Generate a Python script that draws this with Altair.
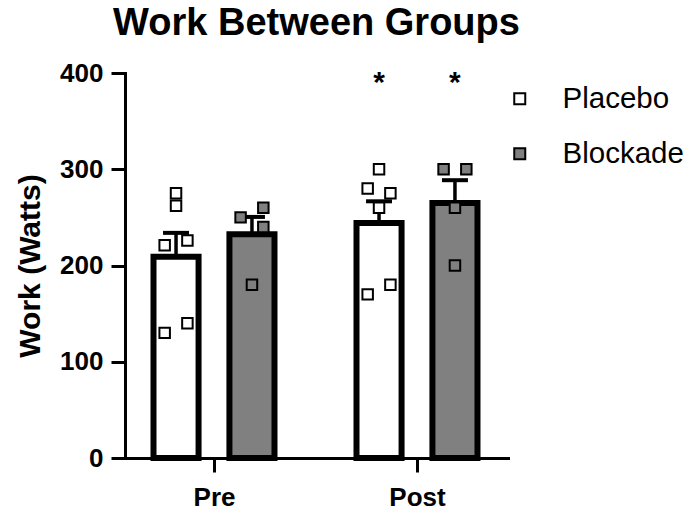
import altair as alt
import pandas as pd

# ---- data -------------------------------------------------------------
times = ["Pre", "Post"]
groups = ["Placebo", "Blockade"]

placebo_pre = [275, 262, 221, 226, 130, 140]
placebo_post = [300, 280, 275, 260, 170, 180]
blockade_pre = [250, 260, 240, 180]
blockade_post = [300, 300, 260, 200]

# column slots used to spread neighbouring points sideways inside a bar
placebo_pre_slot = [0, 0, -1, 1, -1, 1]
placebo_post_slot = [0, -1, 1, 0, -1, 1]
blockade_pre_slot = [-1, 1, 1, 0]
blockade_post_slot = [-1, 1, 0, 0]

# bars flagged as significantly different from baseline
significant = [("Post", "Placebo"), ("Post", "Blockade")]

# ---- layout constants (x units: one unit between time points) ----------
GROUP_SHIFT = {"Placebo": -0.187, "Blockade": 0.187}
BAR_HALF = 0.111
CAP_HALF = 0.064
SLOT_STEP = 0.056
STAR_Y = 380

values = {
    ("Placebo", "Pre"): (placebo_pre, placebo_pre_slot),
    ("Placebo", "Post"): (placebo_post, placebo_post_slot),
    ("Blockade", "Pre"): (blockade_pre, blockade_pre_slot),
    ("Blockade", "Post"): (blockade_post, blockade_post_slot),
}

rows = []
for t_idx, t in enumerate(times):
    for g in groups:
        vals, slots = values[(g, t)]
        for v, s in zip(vals, slots):
            rows.append({"time": t, "group": g, "work": v, "slot": s,
                         "center": t_idx + 1 + GROUP_SHIFT[g]})
df = pd.DataFrame(rows)

stars = pd.DataFrame([
    {"time": t, "group": g, "label": "*",
     "center": times.index(t) + 1 + GROUP_SHIFT[g], "y": STAR_Y}
    for t, g in significant
])

FONT = "Liberation Sans"

x_scale = alt.Scale(domain=[0.5616, 2.4483], nice=False, zero=False)
y_scale = alt.Scale(domain=[0, 400], nice=False)

label_js = "[" + ",".join(f"'{t}'" for t in times) + "][datum.value - 1]"
x_axis = alt.Axis(values=[1, 2], labelExpr=label_js, title=None,
                  tickSize=14, labelPadding=12, domainCap="square")
y_axis = alt.Axis(values=[0, 100, 200, 300, 400], title="Work (Watts)",
                  tickSize=14, labelPadding=8, domainCap="square",
                  titleX=-95, titleY=192.5, titleAngle=270,
                  titleBaseline="middle", titleAlign="center")

fill_scale = alt.Scale(domain=groups, range=["white", "#808080"])
legend = alt.Legend(title=None, orient="none", legendX=380, legendY=11,
                    symbolType="square", symbolSize=121,
                    symbolStrokeColor="black", symbolStrokeWidth=2,
                    labelFont=FONT, labelFontSize=29.5, labelColor="black",
                    labelOffset=28, rowPadding=24)

stats = alt.Chart(df).transform_aggregate(
    mean_work="mean(work)", sem="stderr(work)",
    groupby=["time", "group", "center"],
).transform_calculate(
    upper="datum.mean_work + datum.sem",
    zero="0",
    left=f"datum.center - {BAR_HALF}",
    right=f"datum.center + {BAR_HALF}",
    cap_l=f"datum.center - {CAP_HALF}",
    cap_r=f"datum.center + {CAP_HALF}",
)

bars = stats.mark_bar(stroke="black", strokeWidth=6, strokeJoin="miter").encode(
    x=alt.X("left:Q", scale=x_scale, axis=x_axis),
    x2="right:Q",
    y=alt.Y("mean_work:Q", scale=y_scale, axis=y_axis),
    y2="zero:Q",
    fill=alt.Fill("group:N", scale=fill_scale, legend=legend),
)

stems = stats.mark_rule(color="black", strokeWidth=3.5).encode(
    x="center:Q", y="mean_work:Q", y2="upper:Q",
)
caps = stats.mark_rule(color="black", strokeWidth=4).encode(
    x="cap_l:Q", x2="cap_r:Q", y="upper:Q",
)

points = alt.Chart(df).transform_calculate(
    px=f"datum.center + datum.slot * {SLOT_STEP}",
).mark_square(size=110, stroke="black", strokeWidth=2, opacity=1).encode(
    x="px:Q",
    y="work:Q",
    fill=alt.Fill("group:N", scale=fill_scale, legend=legend),
)

star_marks = alt.Chart(stars).mark_text(
    font=FONT, fontSize=30, fontWeight="bold", color="black",
    baseline="alphabetic", align="center",
).encode(x="center:Q", y="y:Q", text="label:N")

chart = alt.layer(bars, stems, caps, points, star_marks).properties(
    width=383, height=385,
    padding={"left": 125, "top": 73, "right": 185, "bottom": 52},
    autosize=alt.AutoSizeParams(type="none"),
    title=alt.TitleParams("Work Between Groups", font=FONT, fontSize=38,
                          fontWeight="bold", color="black", anchor="middle",
                          offset=17),
    background="white",
).configure_view(stroke=None).configure_axis(
    grid=False, domainColor="black", domainWidth=3,
    tickColor="black", tickWidth=3,
    labelFont=FONT, labelFontWeight="bold", labelFontSize=26, labelColor="black",
    titleFont=FONT, titleFontWeight="bold", titleFontSize=30, titleColor="black",
)

chart.save("out.html", embed_options={"renderer": "svg", "actions": False})
